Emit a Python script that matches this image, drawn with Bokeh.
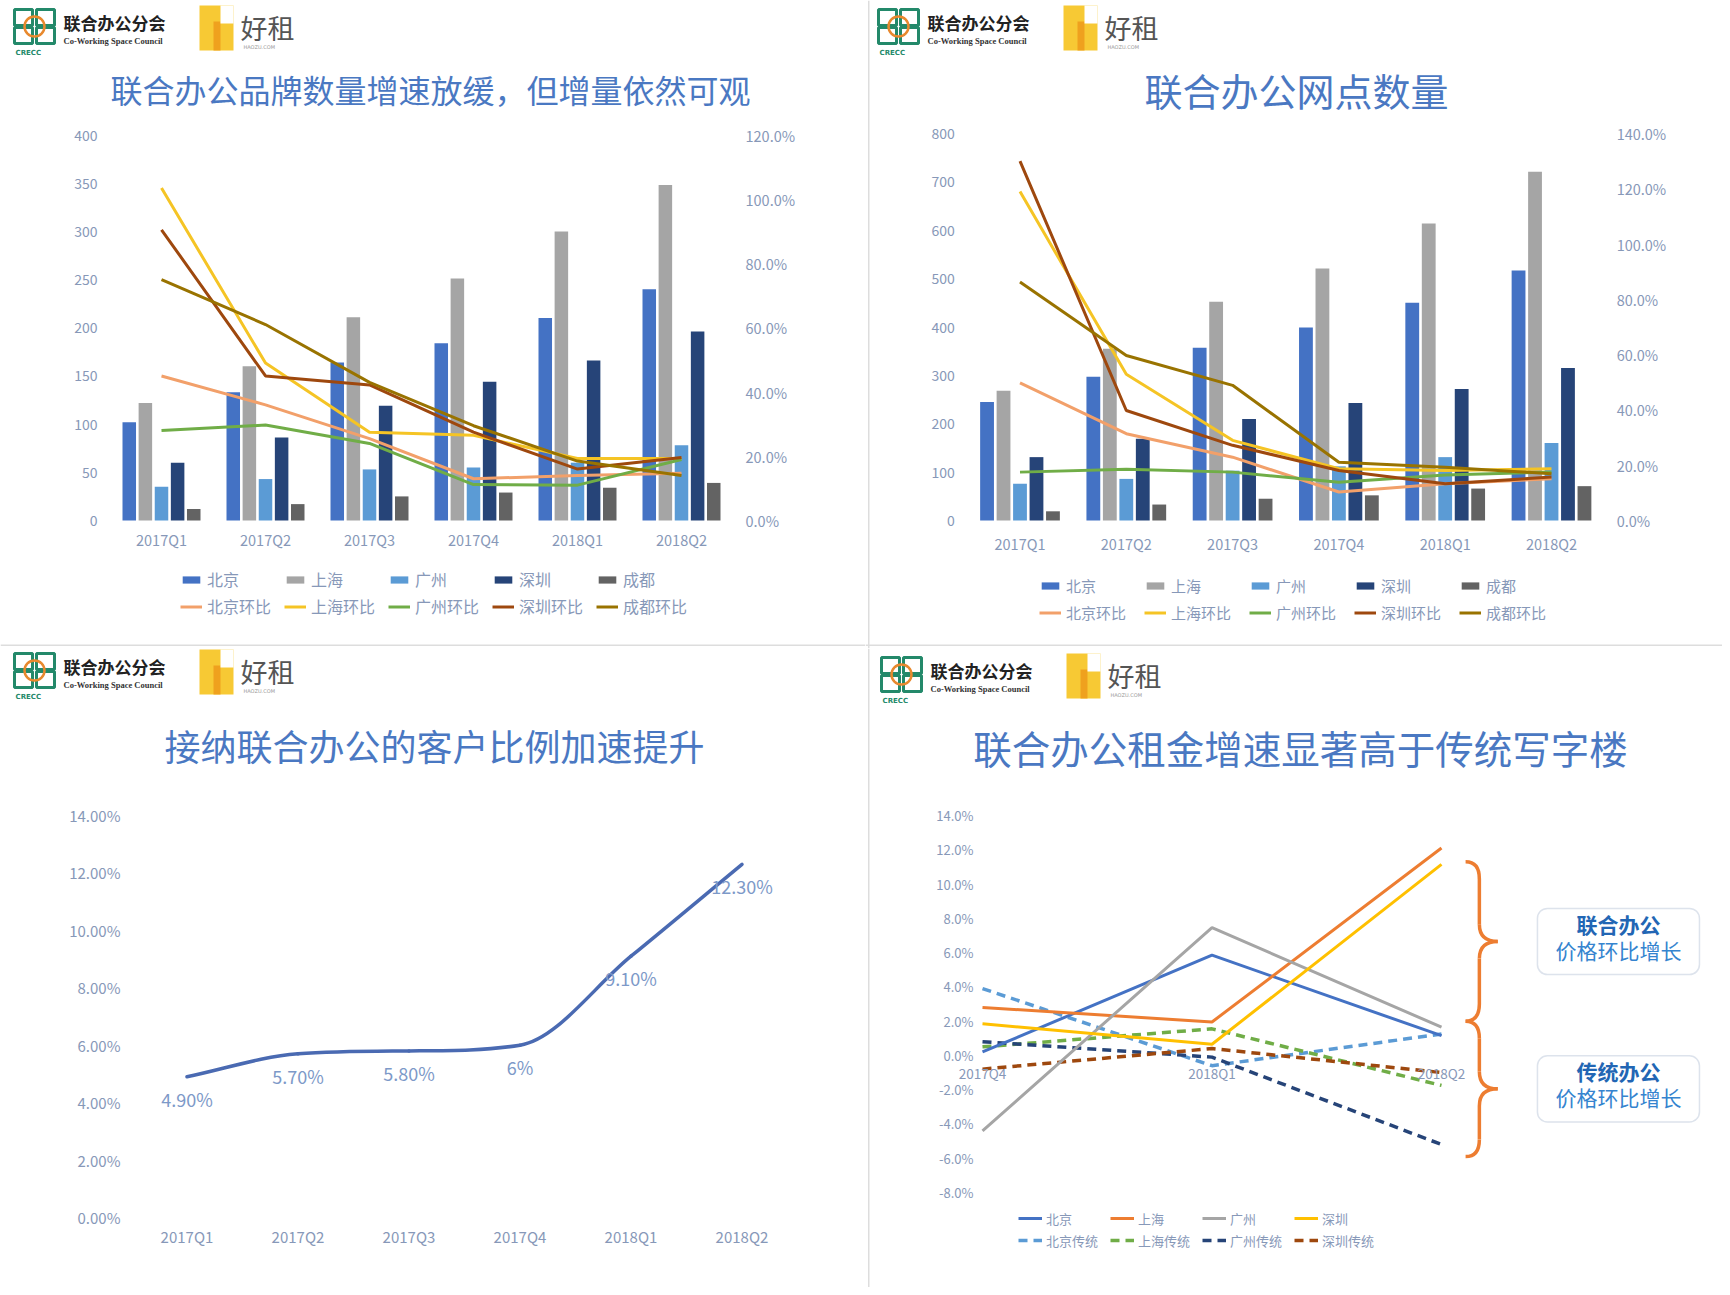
from bokeh.plotting import figure
from bokeh.models import (ColumnDataSource, Range1d, LinearAxis,
                          FixedTicker, PrintfTickFormatter,
                          Legend, LegendItem, Label, BoxAnnotation)
from bokeh.transform import dodge
from bokeh.layouts import column, row
from bokeh.embed import file_html
from bokeh.resources import INLINE
from bokeh.core.properties import value

# ------------------------------------------------------------------ data
quarters = ["2017Q1", "2017Q2", "2017Q3", "2017Q4", "2018Q1", "2018Q2"]
cities = ["北京", "上海", "广州", "深圳", "成都"]

# panel 1: brand count (left axis) and quarter-on-quarter growth in % (right axis)
brand_beijing = [102, 133, 164, 184, 210, 240]
brand_shanghai = [122, 160, 211, 251, 300, 348]
brand_guangzhou = [35, 43, 53, 55, 60, 78]
brand_shenzhen = [60, 86, 119, 144, 166, 196]
brand_chengdu = [12, 17, 25, 29, 34, 39]
brand_beijing_qoq = [45.0, 36.0, 25.5, 13.0, 14.0, 14.7]
brand_shanghai_qoq = [103.5, 49.0, 27.5, 26.5, 19.3, 19.3]
brand_guangzhou_qoq = [28.0, 29.7, 24.0, 11.2, 11.0, 19.0]
brand_shenzhen_qoq = [90.5, 45.0, 42.2, 27.5, 16.0, 19.6]
brand_chengdu_qoq = [75.0, 61.0, 43.0, 29.5, 18.5, 14.0]
brand_left_ticks = [0, 50, 100, 150, 200, 250, 300, 350, 400]
brand_right_ticks = [0, 20, 40, 60, 80, 100, 120]

# panel 2: site count (left axis) and quarter-on-quarter growth in % (right axis)
site_beijing = [245, 297, 357, 399, 450, 517]
site_shanghai = [268, 355, 452, 521, 614, 721]
site_guangzhou = [76, 86, 103, 112, 131, 160]
site_shenzhen = [131, 169, 210, 243, 272, 315]
site_chengdu = [19, 33, 45, 52, 66, 71]
site_beijing_qoq = [49.8, 31.4, 22.9, 10.3, 13.3, 15.1]
site_shanghai_qoq = [119.0, 52.9, 29.0, 18.7, 18.1, 18.7]
site_guangzhou_qoq = [17.5, 18.5, 17.5, 13.8, 16.5, 17.5]
site_shenzhen_qoq = [130.0, 39.8, 27.2, 18.1, 13.3, 15.7]
site_chengdu_qoq = [86.3, 59.7, 48.9, 21.1, 19.3, 16.9]
site_left_ticks = [0, 100, 200, 300, 400, 500, 600, 700, 800]
site_right_ticks = [0, 20, 40, 60, 80, 100, 120, 140]

# panel 3: share of clients accepting co-working (%)
adopt_ratio = [4.9, 5.7, 5.8, 6.0, 9.1, 12.3]
adopt_labels = ["4.90%", "5.70%", "5.80%", "6%", "9.10%", "12.30%"]
adopt_ticks = [0, 2, 4, 6, 8, 10, 12, 14]

# panel 4: rent growth quarter on quarter (%)
rent_quarters = ["2017Q4", "2018Q1", "2018Q2"]
rent_cities = ["北京", "上海", "广州", "深圳"]
cowork_beijing = [0.2, 5.85, 1.15]
cowork_shanghai = [2.8, 1.95, 12.1]
cowork_guangzhou = [-4.4, 7.45, 1.65]
cowork_shenzhen = [1.85, 0.65, 11.15]
trad_beijing = [3.9, -0.6, 1.25]
trad_shanghai = [0.5, 1.55, -1.75]
trad_guangzhou = [0.8, -0.1, -5.2]
trad_shenzhen = [-0.8, 0.4, -1.0]
rent_ticks = [-8, -6, -4, -2, 0, 2, 4, 6, 8, 10, 12, 14]
box_titles = ["联合办公", "传统办公"]
box_subtitle = "价格环比增长"

# ------------------------------------------------------------------ style
FONT = "Noto Sans CJK SC"
TICK_C = "#8798b8"
TITLE_C = "#4a78c2"
BAR_COLORS = ["#4472C4", "#A5A5A5", "#5B9BD5", "#264478", "#636363"]
LINE_COLORS = ["#F2A06A", "#F5C425", "#70AD47", "#9E480E", "#997300"]
RENT_COLORS = ["#4472C4", "#ED7D31", "#A5A5A5", "#FFC000"]
TRAD_COLORS = ["#5B9BD5", "#70AD47", "#264478", "#9E480E"]


def style_axis(ax, size="13px", standoff=12):
    ax.axis_line_color = None
    ax.major_tick_line_color = None
    ax.minor_tick_line_color = None
    ax.major_tick_out = 0
    ax.major_tick_in = 0
    ax.minor_tick_out = 0
    ax.minor_tick_in = 0
    ax.major_label_standoff = standoff
    ax.major_label_text_color = TICK_C
    ax.major_label_text_font = FONT
    ax.major_label_text_font_size = size


def xr(v0, p0, step, size):
    # value v0 sits at canvas pixel p0, 'step' pixels per unit
    return Range1d(v0 - p0 / step, v0 + (size - p0) / step)


def yr(v0, p0, v1, p1, size):
    # value v0 at canvas pixel p0 (from top), v1 at p1
    s = (v1 - v0) / (p0 - p1)
    return Range1d(v0 - (size - p0) * s, v1 + p1 * s)


def make_fig(W, H, x_range, y_range):
    p = figure(width=W, height=H, x_range=x_range, y_range=y_range,
               output_backend="svg", toolbar_location=None,
               x_axis_location=None, y_axis_location=None,
               min_border=0, min_border_left=0, min_border_right=0,
               min_border_top=0, min_border_bottom=0)
    p.xgrid.visible = False
    p.ygrid.visible = False
    p.outline_line_color = None
    p.background_fill_color = "white"
    p.border_fill_color = "white"
    return p


def lab(p, H, x, y, text, **kw):
    opts = dict(text_font=FONT, text_baseline="middle", text_align="left")
    opts.update(kw)
    p.add_layout(Label(x=x, y=H - y, x_units="screen", y_units="screen", text=text, **opts))


def box(p, H, x0, y0, x1, y1, **kw):
    opts = dict(fill_alpha=0, line_alpha=1)
    opts.update(kw)
    p.add_layout(BoxAnnotation(left=x0, right=x1, top=H - y0, bottom=H - y1,
                               left_units="screen", right_units="screen",
                               top_units="screen", bottom_units="screen", **opts))


def add_logo(p, H, ox, oy):
    green = "#23896a"
    for dx, dy in [(0, 0), (22, 0), (0, 18), (22, 18)]:
        box(p, H, ox + dx, oy + dy, ox + dx + 18, oy + dy + 16,
            line_color=green, line_width=3)
    box(p, H, ox + 10, oy + 7, ox + 30, oy + 27, line_color="#E8892E",
        line_width=2.5, border_radius=10)
    lab(p, H, ox + 1, oy + 43, "CRECC", text_font="DejaVu Sans",
        text_font_size="7px", text_color=green, text_font_style="bold")
    lab(p, H, ox + 49, oy + 13, "联合办公分会", text_font_size="17px",
        text_font_style="bold", text_color="#222222")
    lab(p, H, ox + 49, oy + 31, "Co-Working Space Council", text_font="Liberation Serif",
        text_font_size="8.5px", text_font_style="bold", text_color="#333333")
    box(p, H, ox + 185, oy - 4, ox + 219, oy + 41, fill_color="#F7C934",
        fill_alpha=1, line_alpha=0)
    box(p, H, ox + 199, oy + 12, ox + 206, oy + 41, fill_color="#EFA11E",
        fill_alpha=1, line_alpha=0)
    box(p, H, ox + 206, oy - 4, ox + 219, oy + 14, fill_color="white",
        fill_alpha=1, line_alpha=0)
    lab(p, H, ox + 226, oy + 18, "好租", text_font_size="27px", text_color="#555555")
    lab(p, H, ox + 229, oy + 37, "HAOZU.COM", text_font="DejaVu Sans",
        text_font_size="5px", text_color="#999999")


def legend(p, items, ncols, loc, font_size, gw, gh, lw, lh, spacing, standoff=5):
    lg = Legend(items=items, ncols=ncols, orientation="horizontal", location=loc,
                label_text_font=FONT, label_text_font_size=font_size,
                label_text_color=TICK_C, glyph_width=gw, glyph_height=gh,
                label_width=lw, label_height=lh, label_standoff=standoff,
                spacing=spacing, padding=0, margin=0,
                background_fill_alpha=0, border_line_alpha=0)
    p.add_layout(lg, "center")


def bar_panel(W, H, c0, step, ybot, ytop, lticks, rticks, bars, lines,
              title, title_xy, title_size, logo_xy, leg_xy, leg_font, leg_lw,
              leg_lh, leg_spacing, xstandoff):
    n = len(quarters)
    p = make_fig(W, H, xr(0, c0, step, W), yr(0, ybot, lticks[-1], ytop, H))
    p.extra_y_ranges = {"pct": yr(0, ybot, rticks[-1], ytop, H)}
    data = {"x": list(range(n))}
    for i, c in enumerate(cities):
        data["b%d" % i] = bars[i]
        data["l%d" % i] = lines[i]
    src = ColumnDataSource(data)
    offsets = [-0.31, -0.155, 0.0, 0.155, 0.31]
    bar_items, line_items = [], []
    for i, c in enumerate(cities):
        r = p.vbar(x=dodge("x", offsets[i]), top="b%d" % i, bottom=0,
                   width=0.13, source=src, fill_color=BAR_COLORS[i], line_color=None)
        bar_items.append(LegendItem(label=c, renderers=[r]))
    for i, c in enumerate(cities):
        r = p.line(x="x", y="l%d" % i, source=src, y_range_name="pct",
                   line_color=LINE_COLORS[i], line_width=3)
        line_items.append(LegendItem(label=c + "环比", renderers=[r]))
    la = LinearAxis(fixed_location=-0.5, ticker=FixedTicker(ticks=lticks))
    style_axis(la, size="14px")
    p.add_layout(la, "left")
    ra = LinearAxis(y_range_name="pct", fixed_location=n - 0.5,
                    ticker=FixedTicker(ticks=rticks),
                    formatter=PrintfTickFormatter(format="%.1f%%"))
    style_axis(ra, size="14.5px")
    p.add_layout(ra, "right")
    xa = LinearAxis(fixed_location=0, ticker=FixedTicker(ticks=list(range(n))),
                    major_label_overrides={i: q for i, q in enumerate(quarters)})
    style_axis(xa, size="14.5px", standoff=xstandoff)
    p.add_layout(xa, "below")
    lab(p, H, title_xy[0], title_xy[1], title, text_font_size=title_size,
        text_color=TITLE_C, text_align="center")
    add_logo(p, H, *logo_xy)
    legend(p, bar_items + line_items, 5, leg_xy, leg_font, 22, 9, leg_lw, leg_lh, leg_spacing)
    return p


W1, W2, H1, H2 = 865, 857, 648, 639

# ------------------------------------------------------------------ panel 1
p1 = bar_panel(W1, H1, 161, 104, 520, 134.5, brand_left_ticks, brand_right_ticks,
               [brand_beijing, brand_shanghai, brand_guangzhou, brand_shenzhen, brand_chengdu],
               [brand_beijing_qoq, brand_shanghai_qoq, brand_guangzhou_qoq,
                brand_shenzhen_qoq, brand_chengdu_qoq],
               "联合办公品牌数量增速放缓，但增量依然可观", (430, 88), "32px",
               (14, 9), (180, H1 - 618), "16px", 74, 22, 3, 8)
box(p1, H1, 0, 644, W1, 645.5, fill_color="#dddddd", fill_alpha=1, line_alpha=0)

# ------------------------------------------------------------------ panel 2
p2 = bar_panel(W2, H1, 154.5, 106.3, 520, 133, site_left_ticks, site_right_ticks,
               [site_beijing, site_shanghai, site_guangzhou, site_shenzhen, site_chengdu],
               [site_beijing_qoq, site_shanghai_qoq, site_guangzhou_qoq,
                site_shenzhen_qoq, site_chengdu_qoq],
               "联合办公网点数量", (431, 89), "38px",
               (13, 9), (174, H1 - 623), "15px", 72, 20, 6, 12)
box(p2, H1, 0, 644, W2, 645.5, fill_color="#dddddd", fill_alpha=1, line_alpha=0)
box(p2, H1, 2.5, 0, 4, H1, fill_color="#dddddd", fill_alpha=1, line_alpha=0)

# ------------------------------------------------------------------ panel 3
p3 = make_fig(W1, H2, xr(0, 186.5, 111, W1), yr(0, 569, adopt_ticks[-1], 167, H2))
xs = list(range(len(quarters)))
n = len(xs)
# monotone cubic (Fritsch-Carlson) tangents for a smooth line through the points
d = [adopt_ratio[i + 1] - adopt_ratio[i] for i in range(n - 1)]
m = [d[0]] + [0.0 if d[i - 1] * d[i] <= 0 else (d[i - 1] + d[i]) / 2 for i in range(1, n - 1)] + [d[-1]]
for i in range(n - 1):
    if d[i] == 0:
        m[i] = m[i + 1] = 0.0
    else:
        a, b = m[i] / d[i], m[i + 1] / d[i]
        s = a * a + b * b
        if s > 9:
            t = 3 / s ** 0.5
            m[i], m[i + 1] = t * a * d[i], t * b * d[i]
bz = dict(x0=[], y0=[], x1=[], y1=[], cx0=[], cy0=[], cx1=[], cy1=[])
for i in range(n - 1):
    bz["x0"].append(xs[i]); bz["y0"].append(adopt_ratio[i])
    bz["x1"].append(xs[i + 1]); bz["y1"].append(adopt_ratio[i + 1])
    bz["cx0"].append(xs[i] + 1 / 3); bz["cy0"].append(adopt_ratio[i] + m[i] / 3)
    bz["cx1"].append(xs[i + 1] - 1 / 3); bz["cy1"].append(adopt_ratio[i + 1] - m[i + 1] / 3)
p3.bezier(source=ColumnDataSource(bz), x0="x0", y0="y0", x1="x1", y1="y1",
          cx0="cx0", cy0="cy0", cx1="cx1", cy1="cy1",
          line_color="#4a6ab2", line_width=3.5, line_cap="round")
p3.text(x=xs, y=adopt_ratio, text=adopt_labels, y_offset=22,
        text_font=value(FONT), text_font_size="18px", text_color="#7d99c8",
        text_align="center", text_baseline="middle")
xa3 = LinearAxis(fixed_location=0, ticker=FixedTicker(ticks=xs),
                 major_label_overrides={i: q for i, q in enumerate(quarters)})
style_axis(xa3, size="15px", standoff=8)
p3.add_layout(xa3, "below")
ya3 = LinearAxis(fixed_location=-0.5, ticker=FixedTicker(ticks=adopt_ticks),
                 formatter=PrintfTickFormatter(format="%.2f%%"))
style_axis(ya3, size="15px", standoff=11)
p3.add_layout(ya3, "left")
lab(p3, H2, 434, 96, "接纳联合办公的客户比例加速提升", text_font_size="36px",
    text_color=TITLE_C, text_align="center")
add_logo(p3, H2, 14, 5)

# ------------------------------------------------------------------ panel 4
x0_px, step_px = 117, 229.5
p4 = make_fig(W2, H2, xr(0, x0_px, step_px, W2), yr(-8, 544, 14, 167, H2))
rx = list(range(len(rent_quarters)))
solid = [cowork_beijing, cowork_shanghai, cowork_guangzhou, cowork_shenzhen]
dashed = [trad_beijing, trad_shanghai, trad_guangzhou, trad_shenzhen]
items = []
for i, c in enumerate(rent_cities):
    r = p4.line(rx, dashed[i], line_color=TRAD_COLORS[i], line_width=3.5, line_dash="9 6")
    items.append((c + "传统", r))
solid_items = []
for i, c in enumerate(rent_cities):
    r = p4.line(rx, solid[i], line_color=RENT_COLORS[i], line_width=3)
    solid_items.append((c, r))
leg_items = [LegendItem(label=l, renderers=[r]) for l, r in solid_items + items]
legend(p4, leg_items, 4, (153, H2 - 601.5), "13px", 24, 16, 61, 16, 3, standoff=4)

xa4 = LinearAxis(fixed_location=0, ticker=FixedTicker(ticks=rx),
                 major_label_overrides={i: q for i, q in enumerate(rent_quarters)})
style_axis(xa4, size="13.5px", standoff=8)
p4.add_layout(xa4, "below")
ya4 = LinearAxis(fixed_location=(113 - x0_px) / step_px, ticker=FixedTicker(ticks=rent_ticks),
                 formatter=PrintfTickFormatter(format="%.1f%%"))
style_axis(ya4, size="13px", standoff=5)
p4.add_layout(ya4, "left")

# curly braces grouping the co-working and the traditional lines at 2018Q2
spans = [(11.3, 2.0), (2.0, -5.9)]
bx0, bxs, bxt, rad = 2.105, 2.165, 2.245, 1.0
qd = dict(x0=[], y0=[], x1=[], y1=[], cx=[], cy=[])
sg = dict(x0=[], y0=[], x1=[], y1=[])
for top, bot in spans:
    mid = (top + bot) / 2
    for (ax_, ay, bx_, by, cx, cy) in [(bx0, top, bxs, top - rad, bxs, top),
                                        (bxs, mid + rad, bxt, mid, bxs, mid),
                                        (bxt, mid, bxs, mid - rad, bxs, mid),
                                        (bxs, bot + rad, bx0, bot, bxs, bot)]:
        qd["x0"].append(ax_); qd["y0"].append(ay); qd["x1"].append(bx_)
        qd["y1"].append(by); qd["cx"].append(cx); qd["cy"].append(cy)
    sg["x0"] += [bxs, bxs]; sg["y0"] += [top - rad, mid - rad]
    sg["x1"] += [bxs, bxs]; sg["y1"] += [mid + rad, bot + rad]
p4.quadratic(source=ColumnDataSource(qd), x0="x0", y0="y0", x1="x1", y1="y1",
             cx="cx", cy="cy", line_color="#ED7D31", line_width=3.5)
p4.segment(source=ColumnDataSource(sg), x0="x0", y0="y0", x1="x1", y1="y1",
           line_color="#ED7D31", line_width=3.5)

for (top, bot), t in zip(spans, box_titles):
    mid = (top + bot) / 2
    p4.add_layout(BoxAnnotation(left=2.418, right=3.124, top=mid + 1.93, bottom=mid - 1.93,
                                fill_color="white", fill_alpha=1, line_color="#8fa2c0",
                                line_width=1.5, border_radius=10))
    p4.add_layout(Label(x=2.771, y=mid + 1.03, text=t, text_font=FONT,
                        text_font_size="21px", text_font_style="bold",
                        text_color="#2266b4", text_align="center", text_baseline="middle"))
    p4.add_layout(Label(x=2.771, y=mid - 0.48, text=box_subtitle, text_font=FONT,
                        text_font_size="21px", text_color="#3584cf",
                        text_align="center", text_baseline="middle"))

lab(p4, H2, 435, 98, "联合办公租金增速显著高于传统写字楼", text_font_size="38.5px",
    text_color=TITLE_C, text_align="center")
add_logo(p4, H2, 16, 9)
box(p4, H2, 2.5, 0, 4, H2, fill_color="#dddddd", fill_alpha=1, line_alpha=0)

layout = column(row(p1, p2), row(p3, p4))
open("out.html", "w").write(file_html(layout, INLINE))
